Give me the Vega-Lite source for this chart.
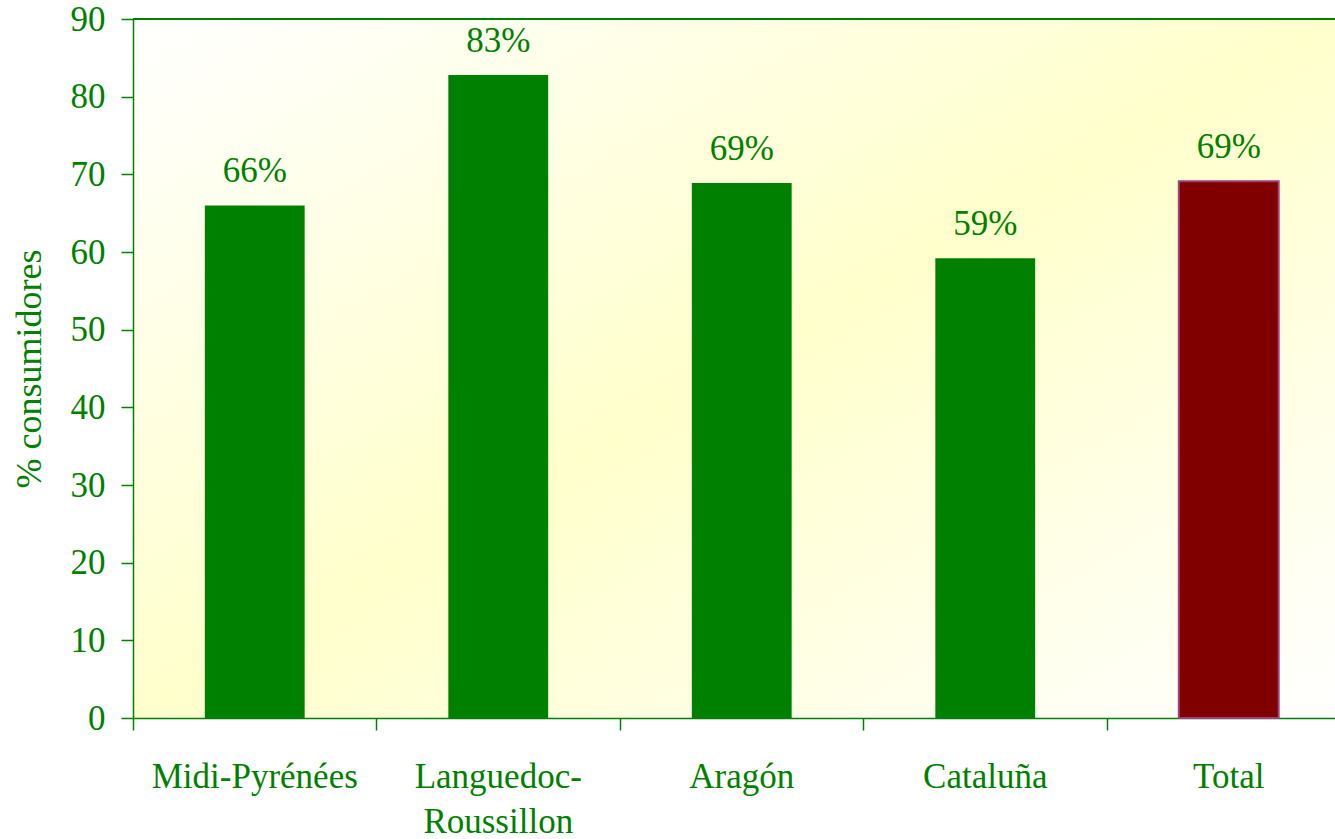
{
  "$schema": "https://vega.github.io/schema/vega-lite/v6.json",
  "width": 1202,
  "height": 699,
  "autosize": {"type": "none"},
  "padding": {"left": 133, "top": 19, "right": 0, "bottom": 121},
  "background": "#ffffff",
  "config": {
    "font": "Liberation Serif",
    "view": {
      "stroke": null,
      "fill": {
        "gradient": "linear",
        "x1": 0, "y1": 0, "x2": 1, "y2": 1,
        "stops": [
          {"offset": 0, "color": "#ffffff"},
          {"offset": 0.5, "color": "#ffffcc"},
          {"offset": 1, "color": "#ffffff"}
        ]
      }
    }
  },
  "data": {
    "values": [
      {"region": "Midi-Pyrénées", "value": 66.0, "label": "66%", "type": "region"},
      {"region": "Languedoc-Roussillon", "value": 82.8, "label": "83%", "type": "region"},
      {"region": "Aragón", "value": 68.9, "label": "69%", "type": "region"},
      {"region": "Cataluña", "value": 59.2, "label": "59%", "type": "region"},
      {"region": "Total", "value": 69.1, "label": "69%", "type": "total"}
    ]
  },
  "encoding": {
    "x": {
      "field": "region",
      "type": "nominal",
      "sort": null,
      "scale": {"range": [0, 1217.5], "paddingInner": 0, "paddingOuter": 0},
      "axis": {
        "title": null,
        "bandPosition": 0,
        "labelAngle": 0,
        "labelFont": "Liberation Serif",
        "labelFontSize": 35,
        "labelColor": "#008000",
        "labelPadding": 29,
        "labelLineHeight": 45,
        "labelLimit": 0,
        "labelExpr": "datum.value == 'Languedoc-Roussillon' ? ['Languedoc-', 'Roussillon'] : datum.value",
        "labelBaseline": "top",
        "labelBound": false,
        "labelOverlap": false,
        "domainColor": "#008000",
        "domainWidth": 1.5,
        "tickColor": "#008000",
        "tickSize": 12,
        "tickWidth": 1.5,
        "grid": false
      }
    },
    "y": {
      "field": "value",
      "type": "quantitative",
      "scale": {"domain": [0, 90], "nice": false, "zero": true},
      "axis": {
        "title": "% consumidores",
        "titleFont": "Liberation Serif",
        "titleFontSize": 36,
        "titleFontWeight": "normal",
        "titleColor": "#008000",
        "titlePadding": 22,
        "values": [0, 10, 20, 30, 40, 50, 60, 70, 80, 90],
        "labelFont": "Liberation Serif",
        "labelFontSize": 35,
        "labelColor": "#008000",
        "labelPadding": 16,
        "labelBound": false,
        "labelOverlap": false,
        "domainColor": "#008000",
        "domainWidth": 1.5,
        "tickColor": "#008000",
        "tickSize": 12,
        "tickWidth": 1.5,
        "grid": false
      }
    }
  },
  "layer": [
    {
      "mark": {"type": "rule", "color": "#008000", "strokeWidth": 1.5},
      "encoding": {"y": {"datum": 90}, "x": null}
    },
    {
      "mark": {"type": "bar", "width": {"band": 0.41}, "strokeWidth": 2},
      "encoding": {
        "color": {
          "field": "type",
          "type": "nominal",
          "scale": {"domain": ["region", "total"], "range": ["#008000", "#800000"]},
          "legend": null
        },
        "stroke": {
          "condition": {"test": "datum.type == 'total'", "value": "#a0407a"},
          "value": null
        }
      }
    },
    {
      "mark": {
        "type": "text",
        "font": "Liberation Serif",
        "fontSize": 35,
        "color": "#008000",
        "baseline": "alphabetic",
        "align": "center",
        "dy": -23
      },
      "encoding": {"text": {"field": "label"}}
    }
  ]
}
